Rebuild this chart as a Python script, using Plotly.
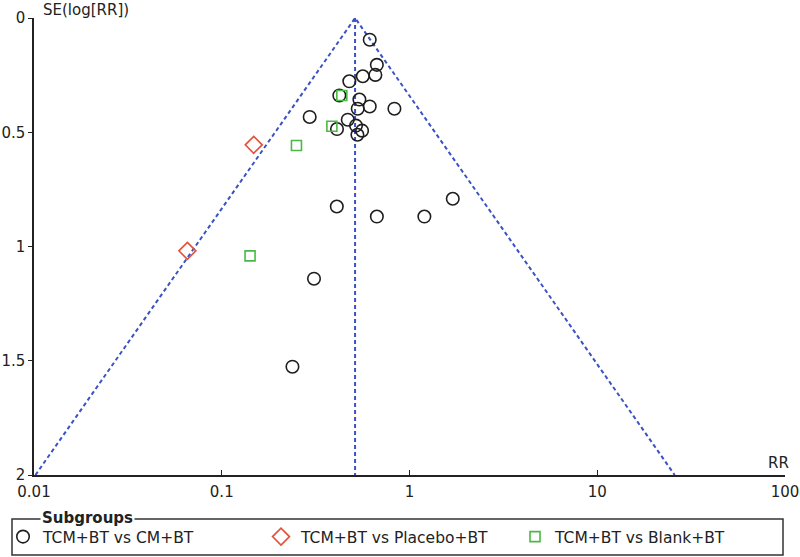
import plotly.graph_objects as go
import numpy as np

# TCM+BT vs CM+BT
cm_rr = [0.614, 0.670, 0.658, 0.564, 0.478, 0.423, 0.541, 0.614, 0.530, 0.831, 0.294,
         0.469, 0.519, 0.411, 0.559, 0.528, 0.410, 0.670, 1.20, 1.70, 0.310, 0.238]
cm_se = [0.095, 0.205, 0.249, 0.255, 0.277, 0.339, 0.357, 0.387, 0.397, 0.397, 0.433,
         0.445, 0.471, 0.486, 0.493, 0.511, 0.825, 0.869, 0.869, 0.791, 1.141, 1.526]
# TCM+BT vs Placebo+BT
pl_rr = [0.148, 0.0656]
pl_se = [0.555, 1.019]
# TCM+BT vs Blank+BT
bl_rr = [0.436, 0.386, 0.250, 0.1415]
bl_se = [0.339, 0.474, 0.558, 1.041]

pooled_rr = 0.513
se_max = 2

x_ticks = [0.01, 0.1, 1, 10, 100]
x_labels = ["0.01", "0.1", "1", "10", "100"]
y_ticks = [0, 0.5, 1, 1.5, 2]
y_labels = ["0", "0.5", "1", "1.5", "2"]

FONT = "DejaVu Sans"
TXT = "#222222"
BLUE = "#3a52c4"

lo = pooled_rr * np.exp(-1.96 * se_max)
hi = pooled_rr * np.exp(1.96 * se_max)

fig = go.Figure()
# funnel limits and pooled line
fig.add_trace(go.Scatter(x=[lo, pooled_rr, hi], y=[se_max, 0, se_max], mode="lines",
                         line=dict(color=BLUE, width=2, dash="4px,3px"),
                         showlegend=False, hoverinfo="skip"))
fig.add_trace(go.Scatter(x=[pooled_rr, pooled_rr], y=[0, se_max], mode="lines",
                         line=dict(color=BLUE, width=2, dash="4px,3px"),
                         showlegend=False, hoverinfo="skip"))

fig.add_trace(go.Scatter(x=cm_rr, y=cm_se, mode="markers", name="TCM+BT vs CM+BT",
                         marker=dict(symbol="circle-open", size=12.5, color="#1e1e1e",
                                     line=dict(width=1.6)),
                         legend="legend"))
fig.add_trace(go.Scatter(x=pl_rr, y=pl_se, mode="markers", name="TCM+BT vs Placebo+BT",
                         marker=dict(symbol="diamond-open", size=13, color="#e0533a",
                                     line=dict(width=1.6)),
                         legend="legend2"))
fig.add_trace(go.Scatter(x=bl_rr, y=bl_se, mode="markers", name="TCM+BT vs Blank+BT",
                         marker=dict(symbol="square-open", size=10, color="#4cb847",
                                     line=dict(width=1.6)),
                         legend="legend3"))

W, H = 800, 557
L, R, T, B = 34, 15, 18, 82
pw = W - L - R
ph = H - T - B


def px(x):
    return (x - L) / pw


def py(y):
    return (H - B - y) / ph


leg = dict(orientation="h", yanchor="middle", xanchor="left", y=py(537),
           font=dict(family=FONT, size=15.5, color=TXT), bgcolor="rgba(0,0,0,0)",
           borderwidth=0)

fig.update_layout(
    width=W, height=H,
    margin=dict(l=L, r=R, t=T, b=B, autoexpand=False),
    paper_bgcolor="white", plot_bgcolor="white",
    font=dict(family=FONT, size=15, color=TXT),
    xaxis=dict(type="log", range=[-2, 2], tickvals=x_ticks, ticktext=x_labels,
               showgrid=False, zeroline=False, showline=True, linecolor="#222",
               linewidth=1.5, ticks="inside", ticklen=5, tickcolor="#222",
               tickfont=dict(size=15), ticklabelstandoff=2, automargin=False),
    yaxis=dict(range=[2, 0], tickvals=y_ticks, ticktext=y_labels,
               showgrid=False, zeroline=False, showline=True, linecolor="#222",
               linewidth=1.5, ticks="outside", ticklen=4, tickcolor="#222",
               tickfont=dict(size=15), automargin=False),
    legend=dict(leg, x=px(3)),
    legend2=dict(leg, x=px(261)),
    legend3=dict(leg, x=px(515)),
    shapes=[dict(type="rect", xref="paper", yref="paper",
                 x0=px(12), x1=px(783), y0=py(519), y1=py(555),
                 line=dict(color="#333", width=1.5))],
    annotations=[
        dict(text="SE(log[RR])", xref="paper", yref="paper", x=px(41), y=py(10),
             xanchor="left", yanchor="middle", showarrow=False,
             font=dict(size=15, color=TXT)),
        dict(text="RR", xref="paper", yref="paper", x=px(778), y=py(463),
             xanchor="center", yanchor="middle", showarrow=False,
             font=dict(size=15, color=TXT)),
        dict(text="<b>Subgroups</b>", xref="paper", yref="paper", x=px(40), y=py(518),
             xanchor="left", yanchor="middle", showarrow=False, bgcolor="white",
             borderpad=1, font=dict(size=15, color=TXT)),
    ],
)

# drop the default 8px page margin so the figure fills the window
fig.write_html("out.html", config={"displayModeBar": False},
               post_script="document.body.style.margin='0';")
